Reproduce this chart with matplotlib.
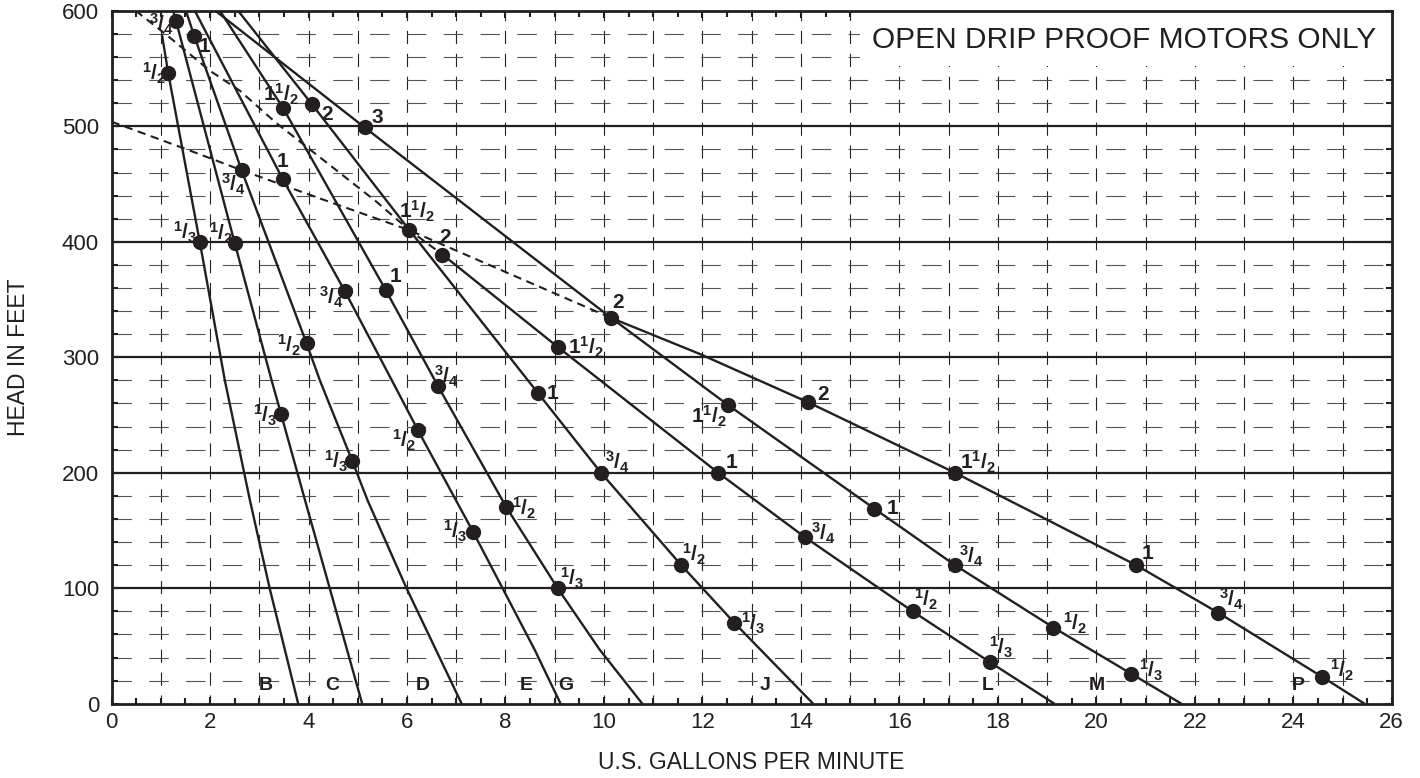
import numpy as np
import matplotlib.pyplot as plt
from matplotlib.patches import Rectangle

plt.rcParams['font.family'] = ['Liberation Sans', 'DejaVu Sans']
plt.rcParams['mathtext.fontset'] = 'custom'
plt.rcParams['mathtext.rm'] = 'Liberation Sans:bold'
plt.rcParams['mathtext.it'] = 'Liberation Sans:bold'
plt.rcParams['mathtext.bf'] = 'Liberation Sans:bold'
plt.rcParams['lines.scale_dashes'] = False

INK = '#231f20'

# ---- pump curves (gpm, head in feet) ----
b_gpm = [1.02, 1.15, 1.79, 2.30, 2.81, 3.21, 3.79]
b_head = [580, 546, 400, 280, 176, 100, 0]
b_hp = ['1/2', '1/3']
b_hp_gpm = [1.15, 1.79]
b_hp_head = [546, 400]

c_gpm = [1.25, 1.31, 2.50, 3.25, 3.44, 3.93, 4.43, 5.09]
c_head = [600, 591, 399, 280, 251, 176, 100, 0]
c_hp = ['3/4', '1/2', '1/3']
c_hp_gpm = [1.31, 2.50, 3.44]
c_hp_head = [591, 399, 251]

d_gpm = [1.51, 1.68, 2.64, 3.96, 4.23, 4.89, 5.20, 5.99, 7.11]
d_head = [600, 578, 462, 312, 280, 210, 176, 100, 0]
d_hp = ['1', '3/4', '1/2', '1/3']
d_hp_gpm = [1.68, 2.64, 3.96, 4.89]
d_hp_head = [578, 462, 312, 210]

e_gpm = [1.69, 3.48, 4.74, 5.68, 6.22, 7.34, 8.59, 9.12]
e_head = [600, 454, 357, 281, 237, 149, 47, 0]
e_hp = ['1', '3/4', '1/2', '1/3']
e_hp_gpm = [3.48, 4.74, 6.22, 7.34]
e_hp_head = [454, 357, 237, 149]

g_gpm = [2.20, 3.48, 5.57, 6.63, 8.02, 9.06, 9.91, 10.78]
g_head = [600, 516, 358, 275, 170, 100, 47, 0]
g_hp = ['1 1/2', '1', '3/4', '1/2', '1/3']
g_hp_gpm = [3.48, 5.57, 6.63, 8.02, 9.06]
g_hp_head = [516, 358, 275, 170, 100]

j_gpm = [2.57, 4.07, 6.05, 8.66, 9.94, 11.57, 12.65, 14.25]
j_head = [600, 519, 410, 269, 200, 120, 70, 0]
j_hp = ['2', '1 1/2', '1', '3/4', '1/2', '1/3']
j_hp_gpm = [4.07, 6.05, 8.66, 9.94, 11.57, 12.65]
j_hp_head = [519, 410, 269, 200, 120, 70]

l_gpm = [6.72, 9.06, 12.32, 14.09, 16.27, 17.84, 19.15]
l_head = [389, 309, 200, 144, 80, 36, 0]
l_hp = ['2', '1 1/2', '1', '3/4', '1/2', '1/3']
l_hp_gpm = [6.72, 9.06, 12.32, 14.09, 16.27, 17.84]
l_hp_head = [389, 309, 200, 144, 80, 36]

m_gpm = [2.11, 5.14, 10.15, 12.51, 15.49, 17.13, 19.13, 20.71, 21.73]
m_head = [600, 499, 334, 259, 169, 120, 66, 26, 0]
m_hp = ['3', '2', '1 1/2', '1', '3/4', '1/2', '1/3']
m_hp_gpm = [5.14, 10.15, 12.51, 15.49, 17.13, 19.13, 20.71]
m_hp_head = [499, 334, 259, 169, 120, 66, 26]

p_gpm = [10.15, 11.94, 14.15, 17.13, 20.81, 22.47, 24.58, 25.45]
p_head = [334, 303, 261, 200, 120, 79, 23.5, 0]
p_hp = ['2', '1 1/2', '1', '3/4', '1/2']
p_hp_gpm = [14.15, 17.13, 20.81, 22.47, 24.58]
p_hp_head = [261, 200, 120, 79, 23.5]

# dashed limit lines
lim1_gpm = [0.49, 1.12, 2.00, 2.60, 3.34, 5.37, 6.05, 6.72]
lim1_head = [600, 579, 548, 531, 503, 435, 410, 389]
lim2_gpm = [0, 1.59, 2.64, 4.20, 6.05, 10.15]
lim2_head = [504, 479, 462, 438, 410, 334]

curve_names = ['B', 'C', 'D', 'E', 'G', 'J', 'L', 'M', 'P']
curve_name_gpm = [3.14, 4.49, 6.32, 8.43, 9.22, 13.28, 17.8, 20.0, 24.1]

x_ticks = list(range(0, 27, 2))
y_ticks = list(range(0, 601, 100))

# label offsets in pixels (dx right, dy up) from each dot
b_off = [(-14, 0), (-15, 9)]
c_off = [(-15, -3), (-14, 10), (-16, -2)]
d_off = [(10, -10), (-8, -14), (-17, -2), (-16, 0)]
e_off = [(0, 18), (-13, -6), (-14, -10), (-18, 0)]
g_off = [(-2, 13), (10, 14), (8, 10), (18, -1), (15, 10)]
j_off = [(15, -10), (7, 19), (15, 0), (16, 10), (13, 11), (19, 0)]
l_off = [(3, 17), (28, 0), (13, 10), (18, 4), (14, 12), (11, 15)]
m_off = [(13, 10), (7, 16), (-19, -12), (18, 0), (16, 9), (22, 4), (20, 3)]
p_off = [(15, 8), (23, 10), (11, 12), (14, 13), (20, 6)]


def hp_text(hp):
    if '/' not in hp:
        return hp
    parts = hp.split(' ')
    whole = parts[0] if len(parts) == 2 else ''
    num, den = parts[-1].split('/')
    return whole + r'$^{' + num + r'}/_{' + den + r'}$'


fig = plt.figure(figsize=(14.2, 7.78), dpi=100)
ax = fig.add_axes([0.0786, 0.0954, 0.9015, 0.8907])
ax.set_xlim(0, 26)
ax.set_ylim(0, 600)

# grid
for xv in range(1, 26):
    ax.plot([xv, xv], [0, 600], color='#222222', lw=0.8,
            linestyle=(3, (9.5, 7.0)), zorder=1)
for yv in range(20, 600, 20):
    if yv % 100 == 0:
        ax.axhline(yv, color=INK, lw=1.6, zorder=1)
    else:
        ax.plot([0, 26], [yv, yv], color='#555555', lw=0.8,
                linestyle=(0, (14.0, 12.5)), zorder=1)

# note box
ax.add_patch(Rectangle((15.2, 552), 10.8, 48, facecolor='white',
                       edgecolor='none', zorder=2))
ax.text(20.56, 574.5, 'OPEN DRIP PROOF MOTORS ONLY', fontsize=21.5,
        ha='center', va='center', color=INK, zorder=3)

# dashed limit lines
for gx, hy in [(lim1_gpm, lim1_head), (lim2_gpm, lim2_head)]:
    ax.plot(gx, hy, color=INK, lw=1.5, linestyle=(0, (6, 4)), zorder=3)

curves = [
    (b_gpm, b_head, b_hp, b_hp_gpm, b_hp_head, b_off),
    (c_gpm, c_head, c_hp, c_hp_gpm, c_hp_head, c_off),
    (d_gpm, d_head, d_hp, d_hp_gpm, d_hp_head, d_off),
    (e_gpm, e_head, e_hp, e_hp_gpm, e_hp_head, e_off),
    (g_gpm, g_head, g_hp, g_hp_gpm, g_hp_head, g_off),
    (j_gpm, j_head, j_hp, j_hp_gpm, j_hp_head, j_off),
    (l_gpm, l_head, l_hp, l_hp_gpm, l_hp_head, l_off),
    (m_gpm, m_head, m_hp, m_hp_gpm, m_hp_head, m_off),
    (p_gpm, p_head, p_hp, p_hp_gpm, p_hp_head, p_off),
]

px2pt = 72.0 / 100
for gx, hy, hp, dx, dy, off in curves:
    ax.plot(gx, hy, color=INK, lw=1.7, zorder=4, solid_capstyle='butt')
    ax.plot(dx, dy, 'o', color=INK, markersize=10, zorder=5)
    for lab, x, y, (ox, oy) in zip(hp, dx, dy, off):
        ax.annotate(hp_text(lab), (x, y), xytext=(ox * px2pt, oy * px2pt),
                    textcoords='offset points', ha='center', va='center',
                    fontsize=15, fontweight='bold', color=INK, zorder=6)

for name, x in zip(curve_names, curve_name_gpm):
    ax.text(x, 15.5, name, fontsize=14, fontweight='bold', color=INK,
            ha='center', va='center', zorder=6)

# axes cosmetics
for s in ax.spines.values():
    s.set_linewidth(2.0)
    s.set_color(INK)
    s.set_zorder(7)
ax.set_xticks(x_ticks)
ax.set_yticks(y_ticks)
ax.set_xticks(np.arange(0, 26.01, 0.5), minor=True)
ax.set_yticks(np.arange(0, 601, 20), minor=True)
ax.tick_params(which='both', direction='in', top=True, right=True,
               color=INK, width=1.5)
ax.tick_params(which='major', length=5)
ax.tick_params(which='minor', length=4)
ax.tick_params(axis='x', labelsize=16, pad=6, labelcolor=INK)
ax.tick_params(axis='y', labelsize=16, pad=9, labelcolor=INK)

fig.text(0.0127, 0.541, 'HEAD IN FEET', rotation=90, fontsize=16.5,
         ha='center', va='center', color=INK)
fig.text(0.5293, 0.0193, 'U.S. GALLONS PER MINUTE', fontsize=16.5,
         ha='center', va='center', color=INK)

fig.savefig('out.png', dpi=100)
